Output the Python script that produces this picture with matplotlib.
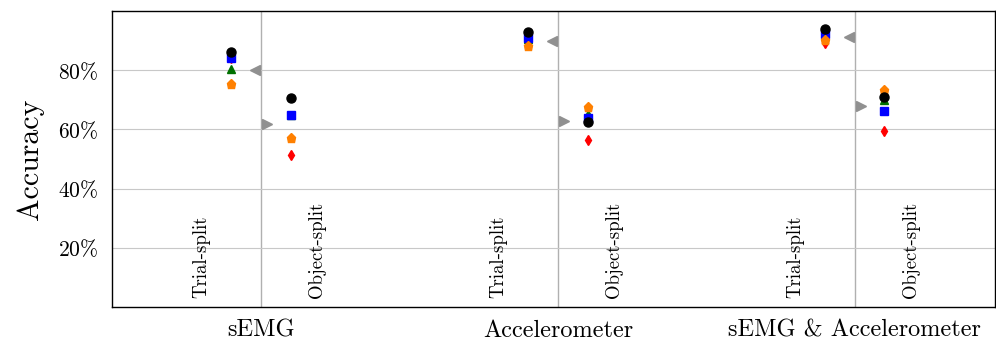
import matplotlib
matplotlib.use("Agg")
import matplotlib.pyplot as plt

plt.rcParams['font.family'] = 'serif'
plt.rcParams['font.serif'] = ['cmr10', 'DejaVu Serif']
plt.rcParams['mathtext.fontset'] = 'cm'
plt.rcParams['axes.unicode_minus'] = False

# modality groups
groups = ['sEMG', 'Accelerometer', 'sEMG & Accelerometer']

# accuracies per model, [trial-split, object-split] for each group
red_trial = [0.84, 0.905, 0.892]
red_obj = [0.512, 0.563, 0.593]
green_trial = [0.803, 0.905, 0.915]
green_obj = [0.647, 0.651, 0.698]
blue_trial = [0.841, 0.908, 0.922]
blue_obj = [0.647, 0.637, 0.661]
orange_trial = [0.753, 0.881, 0.903]
orange_obj = [0.569, 0.675, 0.732]
black_trial = [0.861, 0.929, 0.939]
black_obj = [0.705, 0.624, 0.708]

# gray reference markers
ref_trial = [0.80, 0.898, 0.912]
ref_obj = [0.617, 0.627, 0.678]

yticks = [0.2, 0.4, 0.6, 0.8]
ytick_labels = [r'$20\%$', r'$40\%$', r'$60\%$', r'$80\%$']

fig = plt.figure(figsize=(9.96, 3.41), dpi=100)
ax = fig.add_axes([0.1125, 0.10, 0.886, 0.868])

x = list(range(len(groups)))
xt = [i - 0.1 for i in x]
xo = [i + 0.1 for i in x]

series = [
    (red_trial, red_obj, 'red', 'd', 5),
    (green_trial, green_obj, '#007000', '^', 5.5),
    (blue_trial, blue_obj, 'blue', 's', 6),
    (orange_trial, orange_obj, '#ff8000', 'p', 6.5),
    (black_trial, black_obj, 'black', 'o', 6.5),
]
for tr, ob, c, m, s in series:
    ax.plot(xt, tr, ls='none', marker=m, color=c, ms=s, zorder=3)
    ax.plot(xo, ob, ls='none', marker=m, color=c, ms=s, zorder=3)

ax.plot([i - 0.02 for i in x], ref_trial, ls='none', marker='<', color='#909090', ms=7, zorder=3)
ax.plot([i + 0.02 for i in x], ref_obj, ls='none', marker='>', color='#909090', ms=7, zorder=3)

for i in x:
    ax.text(i - 0.2, 0.03, 'Trial-split', rotation=90, ha='center', va='bottom', fontsize=13.5)
    ax.text(i + 0.19, 0.03, 'Object-split', rotation=90, ha='center', va='bottom', fontsize=13.5)

ax.set_xlim(-0.502, 2.471)
ax.set_ylim(0, 1.0)
ax.set_xticks(x)
ax.set_xticklabels(groups, fontsize=17.5)
ax.set_yticks(yticks)
ax.set_yticklabels(ytick_labels, fontsize=15.5)
ax.tick_params(axis='y', length=0, pad=10)
ax.tick_params(axis='x', length=0, pad=9)
ax.set_ylabel('Accuracy', fontsize=21.5, labelpad=10)
ax.grid(True, axis='y', color='#c8c8c8', lw=0.8)
ax.grid(True, axis='x', color='#b0b0b0', lw=1.0)
ax.set_axisbelow(True)
for sp in ax.spines.values():
    sp.set_linewidth(1.0)

fig.savefig('out.png', dpi=100)
